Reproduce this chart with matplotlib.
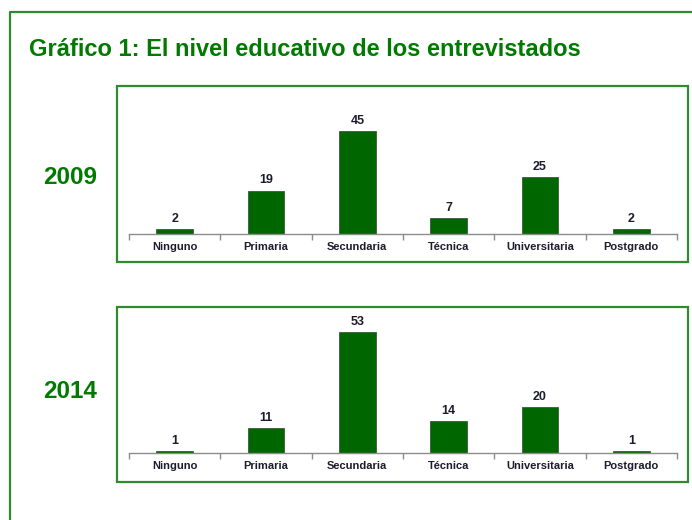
import numpy as np
import matplotlib
matplotlib.use("Agg")
import matplotlib.pyplot as plt
from matplotlib.patches import Rectangle
from matplotlib.lines import Line2D

plt.rcParams["font.family"] = ["Liberation Sans", "DejaVu Sans"]

categories = ["Ninguno", "Primaria", "Secundaria", "Técnica", "Universitaria", "Postgrado"]
years = ["2009", "2014"]
values_2009 = [2, 19, 45, 7, 25, 2]
values_2014 = [1, 11, 53, 14, 20, 1]

GREEN = "#007a00"
BORDER = "#2e8b2e"
BAR = "#006600"
TEXT = "#1c1c2c"

W, H = 692, 520
fig = plt.figure(figsize=(W / 100, H / 100), dpi=100)


def fx(px):
    return px / W


def fy(py):
    return 1 - py / H


# outer frame (left and top edges visible)
fig.add_artist(Line2D([fx(10), fx(10), fx(W + 5)], [fy(H + 5), fy(12), fy(12)],
                      transform=fig.transFigure, color=BORDER, lw=1.6))

fig.text(fx(29), fy(49), "Gráfico 1: El nivel educativo de los entrevistados",
         color=GREEN, fontsize=17, fontweight="bold", ha="left", va="center")

panels = [
    (years[0], values_2009, 86, 262, 234, 177),
    (years[1], values_2014, 307, 482, 453, 391),
]

x = np.arange(len(categories))

for year, vals, box_top, box_bot, axis_y, year_y in panels:
    fig.add_artist(Rectangle((fx(117), fy(box_bot)), fx(688 - 117), (box_bot - box_top) / H,
                             transform=fig.transFigure, fill=False,
                             edgecolor=BORDER, lw=1.6))
    fig.text(fx(70), fy(year_y), year, color=GREEN, fontsize=17.5,
             fontweight="bold", ha="center", va="center")

    ax = fig.add_axes([fx(129), fy(axis_y), fx(677 - 129), 146 / H])
    ax.bar(x, vals, width=0.4, color=BAR, edgecolor="#3d5a3d", linewidth=0.6)
    for xi, v in zip(x, vals):
        ax.annotate(str(v), (xi, v), xytext=(0, 3), textcoords="offset points",
                    ha="center", va="bottom", fontsize=9, fontweight="bold",
                    color=TEXT)

    ax.set_xlim(-0.5, len(categories) - 0.5)
    ax.set_ylim(0, 64)
    ax.set_yticks([])
    ax.set_xticks(np.arange(-0.5, len(categories)), labels=[])
    ax.set_xticks(x, labels=categories, minor=True)
    ax.tick_params(axis="x", which="major", direction="out", length=4,
                   color="#8c8c8c", width=1)
    ax.tick_params(axis="x", which="minor", length=0, pad=6, labelsize=8,
                   labelcolor=TEXT)
    for lab in ax.get_xticklabels(minor=True):
        lab.set_fontweight("bold")
    for side in ["top", "left", "right"]:
        ax.spines[side].set_visible(False)
    ax.spines["bottom"].set_color("#8c8c8c")
    ax.spines["bottom"].set_linewidth(1)
    ax.patch.set_alpha(0)

fig.savefig("out.png", dpi=100)
